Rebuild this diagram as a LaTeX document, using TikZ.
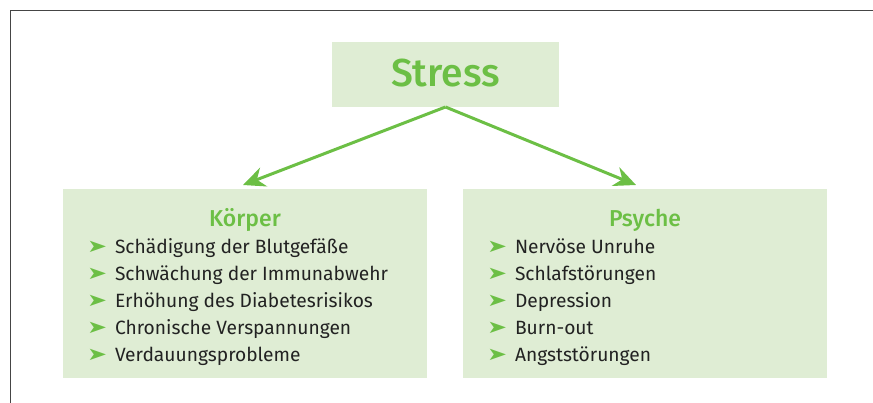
\documentclass[tikz,border=0pt]{standalone}
\usepackage{fontspec}
\setmainfont{Fira Sans}
\newfontfamily\headfont{Fira Sans Medium}
\newfontfamily\symfont{DejaVu Sans}
\usetikzlibrary{arrows.meta}
\definecolor{stress-green}{HTML}{6CBF45}
\definecolor{box-bg}{HTML}{DFEDD4}
\definecolor{frame-gray}{HTML}{454545}
\definecolor{item-text}{HTML}{222222}

\begin{document}
\begin{tikzpicture}[x=1pt, y=-1pt,
      every node/.style={inner sep=0pt, outer sep=0pt},
      box/.style={fill=box-bg, anchor=north west},
      head/.style={stress-green, anchor=base, font=\headfont\fontsize{23}{27}\selectfont},
      bullet/.style={stress-green, anchor=base west, font=\symfont\fontsize{24}{28}\selectfont},
      item/.style={item-text, anchor=base west, font=\fontsize{19.2}{23}\selectfont},
      link/.style={-{Stealth[length=22pt, width=20pt]}, stress-green, line width=3pt}]
    \useasboundingbox (0,0) rectangle (873,403);
    \draw[frame-gray, line width=1.3pt] (10.5,403) -- (10.5,10.5) -- (873,10.5);
    % boxes
    \node[box, minimum width=227pt, minimum height=65pt]  (stress) at (332,42)  {};
    \node[box, minimum width=364pt, minimum height=189pt] (koerper) at (63,189) {};
    \node[box, minimum width=364pt, minimum height=189pt] (psyche) at (463,189) {};
    \node[stress-green, anchor=base, font=\headfont\fontsize{39}{45}\selectfont]
          (stresstext) at (445.5,86.7) {Stress};
    % arrows
    \coordinate (ktip) at (243,185);
    \coordinate (ptip) at (636,185);
    \draw[link] (stress.south) -- (ktip);
    \draw[link] (stress.south) -- (ptip);
    % titles
    \node[head] (ktitle) at (245,226.7) {Körper};
    \node[head] (ptitle) at (645,226.7) {Psyche};
    % lists
    \foreach \txt [count=\i] in {Schädigung der Blutgefäße, Schwächung der Immunabwehr,
        Erhöhung des Diabetesrisikos, Chronische Verspannungen, Verdauungsprobleme} {
      \node[bullet] (kb\i) at (87,{253+26.75*(\i-1)}) {\scalebox{1}[0.75]{➤}};
      \node[item] (ki\i) at (115,{254+26.75*(\i-1)}) {\txt};
    }
    \foreach \txt [count=\i] in {Nervöse Unruhe, Schlafstörungen, Depression,
        Burn-out, Angststörungen} {
      \node[bullet] (pb\i) at (487,{253+26.75*(\i-1)}) {\scalebox{1}[0.75]{➤}};
      \node[item] (pi\i) at (515,{254+26.75*(\i-1)}) {\txt};
    }
  \end{tikzpicture}
\end{document}
